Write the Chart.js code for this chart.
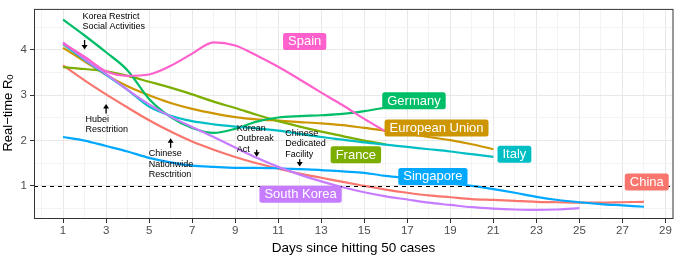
<!DOCTYPE html>
<html>
<head>
<meta charset="utf-8">
<script src="https://cdn.jsdelivr.net/npm/chart.js@4.4.0/dist/chart.umd.min.js"></script>
<style>
  html, body { margin: 0; padding: 0; background: #fff; overflow: hidden; }
  canvas { display: block; }
</style>
</head>
<body>
<canvas id="rtChart" width="676" height="259"></canvas>
<script>
// Real-time R0 per day, starting at day 1
const china = [3.66, 3.33, 3.02, 2.73, 2.45, 2.2, 1.98, 1.8, 1.64, 1.5, 1.38, 1.27, 1.18, 1.09, 1.0, 0.92, 0.85, 0.79, 0.75, 0.71, 0.69, 0.67, 0.65, 0.64, 0.63, 0.63, 0.64, 0.65];
const europeanUnion = [4.05, 3.75, 3.45, 3.2, 3.0, 2.83, 2.7, 2.6, 2.52, 2.47, 2.44, 2.41, 2.38, 2.34, 2.28, 2.22, 2.15, 2.08, 2.01, 1.92, 1.81];
const france = [3.62, 3.58, 3.53, 3.43, 3.3, 3.17, 3.02, 2.86, 2.72, 2.57, 2.43, 2.31, 2.2, 2.1, 2.0, 1.92];
const germany = [4.67, 4.32, 3.95, 3.55, 2.92, 2.52, 2.28, 2.17, 2.26, 2.42, 2.51, 2.54, 2.56, 2.59, 2.65, 2.73];
const italy = [4.13, 3.78, 3.45, 3.12, 2.75, 2.55, 2.43, 2.36, 2.31, 2.27, 2.22, 2.15, 2.08, 2.02, 1.96, 1.91, 1.86, 1.81, 1.76, 1.7, 1.64];
const singapore = [2.08, 2.0, 1.88, 1.76, 1.62, 1.52, 1.45, 1.42, 1.4, 1.4, 1.39, 1.37, 1.35, 1.32, 1.29, 1.22, 1.17, 1.12, 1.06, 1.0, 0.93, 0.85, 0.76, 0.69, 0.64, 0.6, 0.57, 0.54];
const southKorea = [4.17, 3.8, 3.47, 3.12, 2.8, 2.53, 2.3, 2.08, 1.85, 1.62, 1.42, 1.25, 1.1, 0.97, 0.86, 0.77, 0.7, 0.63, 0.58, 0.53, 0.5, 0.48, 0.47, 0.48, 0.51];
const spain = [4.15, 3.85, 3.53, 3.43, 3.46, 3.65, 3.92, 4.17, 4.1, 3.88, 3.63, 3.35, 3.06, 2.78, 2.48, 2.2];

const countries = ['China', 'European Union', 'France', 'Germany', 'Italy', 'Singapore', 'South Korea', 'Spain'];
const series = [china, europeanUnion, france, germany, italy, singapore, southKorea, spain];

const xTickLabels = [1, 3, 5, 7, 9, 11, 13, 15, 17, 19, 21, 23, 25, 27, 29];
const yTickLabels = [1, 2, 3, 4];
const threshold = 1;

// policy events: text and the day they point at
const eventText = [
  ['Korea Restrict', 'Social Activities'],
  ['Hubei', 'Resctrition'],
  ['Chinese', 'Nationwide', 'Resctrition'],
  ['Korean', 'Outbreak', 'Act'],
  ['Chinese', 'Dedicated', 'Facility']
];
const eventDay = [2, 3, 6, 10, 12];

const colors = ['#F8766D', '#CD9600', '#7CAE00', '#00BE67', '#00BFC4', '#00A9FF', '#C77CFF', '#FF61CC'];
const FONT = '"Liberation Sans", Arial, sans-serif';

// where the country tags sit, in day / R0 units
const tagAt = [[28.13, 1.085], [18.36, 2.28], [14.61, 1.69], [17.31, 2.88], [21.98, 1.70], [18.19, 1.21], [12.04, 0.815], [12.23, 4.19]];
// event notes: [text left day, first line R0, arrow tail R0, arrow head R0]
const noteAt = [[1.9, 4.75, 4.22, 4.01], [2.04, 2.47, 2.60, 2.81], [4.98, 1.715, 1.84, 2.05], [9.07, 2.27, 1.80, 1.645], [11.33, 2.16, 1.59, 1.43]];

const datasets = series.map((vals, i) => ({
  label: countries[i],
  data: vals.map((v, j) => ({ x: j + 1, y: v })),
  borderColor: colors[i],
  borderWidth: 2.2,
  pointRadius: 0,
  fill: false,
  cubicInterpolationMode: 'monotone',
  order: series.length - i
}));

const isMajorX = v => xTickLabels.includes(v);
const isMajorY = v => yTickLabels.includes(v);

const decorations = {
  id: 'decorations',
  afterDatasetsDraw(chart) {
    const { ctx, chartArea: a, scales: { x, y } } = chart;
    ctx.save();

    // dashed reference line at R0 = 1
    const py = Math.round(y.getPixelForValue(threshold)) + 0.5;
    ctx.strokeStyle = '#000';
    ctx.lineWidth = 1;
    ctx.setLineDash([4, 4]);
    ctx.beginPath();
    ctx.moveTo(a.left, py);
    ctx.lineTo(a.right, py);
    ctx.stroke();
    ctx.setLineDash([]);

    // event notes with arrows
    ctx.fillStyle = '#000';
    ctx.font = '9px ' + FONT;
    ctx.textAlign = 'left';
    ctx.textBaseline = 'middle';
    eventText.forEach((lines, i) => {
      const [lx, ly, tail, head] = noteAt[i];
      const px = x.getPixelForValue(lx);
      const py0 = y.getPixelForValue(ly);
      lines.forEach((t, k) => ctx.fillText(t, px, py0 + k * 10.5));
      const ax = x.getPixelForValue(eventDay[i]);
      const y1 = y.getPixelForValue(tail);
      const y2 = y.getPixelForValue(head);
      const dir = y2 > y1 ? 1 : -1;
      ctx.lineWidth = 1.3;
      ctx.beginPath();
      ctx.moveTo(ax, y1);
      ctx.lineTo(ax, y2 - dir * 3);
      ctx.stroke();
      ctx.beginPath();
      ctx.moveTo(ax, y2);
      ctx.lineTo(ax - 3, y2 - dir * 4.5);
      ctx.lineTo(ax + 3, y2 - dir * 4.5);
      ctx.closePath();
      ctx.fill();
    });

    // country tags
    ctx.font = '13px ' + FONT;
    ctx.textAlign = 'center';
    countries.forEach((name, i) => {
      const cx = x.getPixelForValue(tagAt[i][0]);
      const cy = y.getPixelForValue(tagAt[i][1]);
      const w = ctx.measureText(name).width + 10;
      const h = 17;
      ctx.fillStyle = colors[i];
      ctx.beginPath();
      ctx.roundRect(cx - w / 2, cy - h / 2, w, h, 2.5);
      ctx.fill();
      ctx.fillStyle = '#fff';
      ctx.fillText(name, cx, cy + 0.5);
    });

    // panel border
    ctx.strokeStyle = '#333';
    ctx.lineWidth = 1;
    ctx.strokeRect(a.left + 0.5, a.top - 0.5, a.right - a.left - 0.5, a.bottom - a.top);
    ctx.restore();
  },
  afterDraw(chart) {
    const { ctx, chartArea: a } = chart;
    ctx.save();
    ctx.fillStyle = '#000';
    // x title
    ctx.font = '13.5px ' + FONT;
    ctx.textAlign = 'center';
    ctx.textBaseline = 'alphabetic';
    ctx.fillText('Days since hitting 50 cases', (a.left + a.right) / 2, 252);
    // y title with subscript
    ctx.translate(11.5, 113);
    ctx.rotate(-Math.PI / 2);
    ctx.textAlign = 'left';
    const main = 'Real\u2212time R';
    ctx.font = '13px ' + FONT;
    const wMain = ctx.measureText(main).width;
    ctx.font = '9.5px ' + FONT;
    const wSub = ctx.measureText('0').width;
    const start = -(wMain + wSub) / 2;
    ctx.font = '13px ' + FONT;
    ctx.fillText(main, start, 0);
    ctx.font = '9.5px ' + FONT;
    ctx.fillText('0', start + wMain, 1.5);
    ctx.restore();
  }
};

const ctx = document.getElementById('rtChart').getContext('2d');
const rtChart = new Chart(ctx, {
  type: 'line',
  data: { datasets: datasets },
  plugins: [decorations],
  options: {
    responsive: false,
    animation: false,
    devicePixelRatio: 1,
    layout: { padding: { top: 2, right: 3, left: 0, bottom: 0 } },
    plugins: { legend: { display: false }, tooltip: { enabled: false } },
    scales: {
      x: {
        type: 'linear',
        min: -0.35,
        max: 29.35,
        afterBuildTicks: s => {
          const t = [];
          for (let v = 0; v <= 29; v++) t.push({ value: v });
          s.ticks = t;
        },
        afterFit: s => { s.height = 40; },
        border: { display: false },
        grid: {
          color: c => isMajorX(c.tick.value) ? '#e8e8e8' : '#f3f3f3',
          lineWidth: 1,
          tickLength: 4,
          tickColor: c => isMajorX(c.tick.value) ? '#333' : 'rgba(0,0,0,0)'
        },
        ticks: {
          autoSkip: false,
          maxRotation: 0,
          padding: 1,
          color: '#4d4d4d',
          font: { family: FONT, size: 11.5 },
          callback: v => isMajorX(v) ? String(v) : ''
        }
      },
      y: {
        min: 0.27,
        max: 4.885,
        afterBuildTicks: s => {
          const t = [];
          for (let v = 0.5; v <= 4.5; v += 0.5) t.push({ value: v });
          s.ticks = t;
        },
        afterFit: s => { s.width = 34; },
        border: { display: false },
        grid: {
          color: c => isMajorY(c.tick.value) ? '#e8e8e8' : '#f3f3f3',
          lineWidth: 1,
          tickLength: 4,
          tickColor: c => isMajorY(c.tick.value) ? '#333' : 'rgba(0,0,0,0)'
        },
        ticks: {
          autoSkip: false,
          padding: 3,
          color: '#4d4d4d',
          font: { family: FONT, size: 11.5 },
          callback: v => isMajorY(v) ? String(v) : ''
        }
      }
    }
  }
});
</script>
</body>
</html>
